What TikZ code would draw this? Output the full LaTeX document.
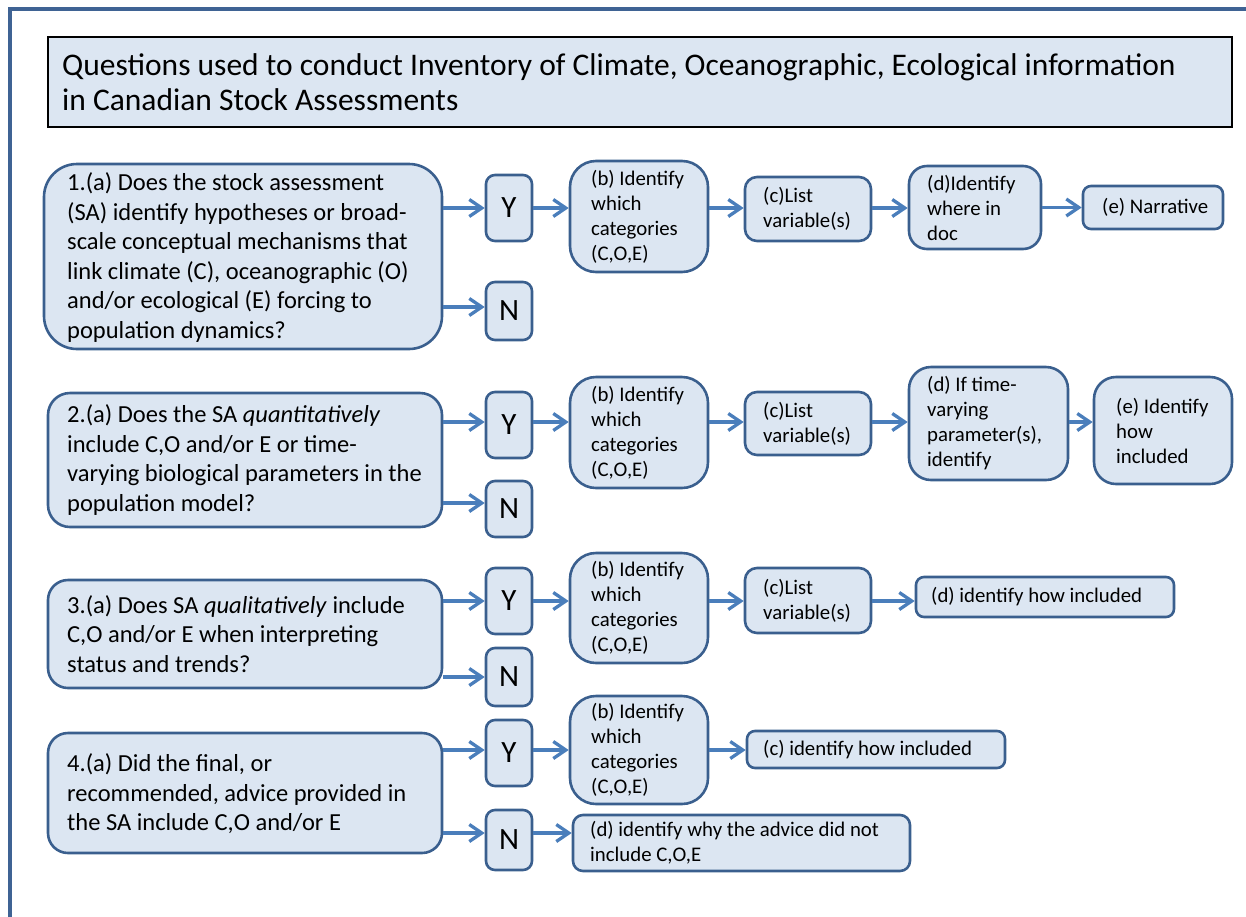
\documentclass[tikz,border=0pt]{standalone}
\usepackage{fontspec}
\setmainfont{Carlito}
\usetikzlibrary{arrows.meta,calc}
\definecolor{boxfill}{HTML}{DCE6F2}
\definecolor{boxdraw}{HTML}{3A5F8E}
\definecolor{arrowc}{HTML}{4A7EBB}
\definecolor{framec}{HTML}{3F6394}
\newcommand\mkbox[6]{\node[boxst, rounded corners=#6, minimum width={#4-#2}, minimum height={#5-#3}] (#1) at ({(#2+#4)/2},{(#3+#5)/2}) {};}
\begin{document}
\begin{tikzpicture}[x=1pt,y=-1pt,
  boxst/.style={draw=boxdraw, fill=boxfill, line width=2.6pt, inner sep=0pt},
  qtext/.style={anchor=west, inner sep=0pt, align=left, font=\fontsize{24.5pt}{29.5pt}\selectfont},
  stext/.style={anchor=west, inner sep=0pt, align=left, font=\fontsize{20.8pt}{25pt}\selectfont},
  yntext/.style={inner sep=0pt, font=\fontsize{31pt}{34pt}\selectfont},
  arr/.style={draw=arrowc, line width=3.3pt, -{Straight Barb[length=12.5pt,width=17pt,line width=3.3pt]}}]
\useasboundingbox (0,0) rectangle (1246,916);
\draw[framec, line width=3.5pt] (10,920) -- (10,9) -- (1250,9);
% title
\node[draw=black, fill=boxfill, line width=1.3pt, minimum width=1184, minimum height=90, inner sep=0pt] (T) at (640,82) {};
\node[anchor=west, inner sep=0pt, align=left, font=\fontsize{31.5pt}{35pt}\selectfont] (Tt) at (62,82) {Questions used to conduct Inventory of Climate, Oceanographic, Ecological information\\in Canadian Stock Assessments};
% question boxes
\mkbox{Q1}{44}{164}{442}{349}{33}
\mkbox{Q2}{48}{393}{442}{527}{22}
\mkbox{Q3}{48}{580}{442}{688}{20}
\mkbox{Q4}{48}{733}{442}{853}{20}
\node[qtext] (Q1t) at (67,257.5) {1.(a) Does the stock assessment\\(SA) identify hypotheses  or broad-\\scale conceptual  mechanisms that\\link climate (C), oceanographic  (O)\\and/or ecological (E) forcing to\\population dynamics?};
\node[qtext] (Q2t) at (67,460) {2.(a) Does the SA \textit{quantitatively}\\include C,O and/or E or time-\\varying biological parameters in the\\population model?};
\node[qtext] (Q3t) at (67,634) {3.(a) Does SA \textit{qualitatively} include\\C,O and/or E when interpreting\\status and trends?};
\node[qtext] (Q4t) at (67,794) {4.(a) Did the final, or\\recommended, advice provided in\\the SA include C,O and/or E};
% Y / N
\mkbox{Y1}{486}{175}{532}{241}{9}
\mkbox{N1}{486}{282}{532}{340}{9}
\mkbox{Y2}{486}{392}{532}{458}{9}
\mkbox{N2}{486}{481}{532}{537}{9}
\mkbox{Y3}{486}{568}{532}{634}{9}
\mkbox{N3}{486}{648}{532}{706}{9}
\mkbox{Y4}{486}{720}{532}{786}{9}
\mkbox{N4}{486}{810}{532}{870}{9}
\foreach \n in {Y1,Y2,Y3,Y4} {\node[yntext] (\n t) at (\n) {Y};}
\foreach \n in {N1,N2,N3,N4} {\node[yntext] (\n t) at (\n) {N};}
% (b) boxes
\mkbox{b1}{570}{161}{708}{272}{26}
\mkbox{b2}{570}{377}{708}{488}{26}
\mkbox{b3}{570}{553}{708}{663}{26}
\mkbox{b4}{570}{696}{708}{804}{26}
\foreach \n in {b1,b2,b3,b4} {\node[stext] (\n t) at (591,0 |- \n) {(b) Identify\\which\\categories\\(C,O,E)};}
% (c) boxes
\mkbox{c1}{745}{177}{871}{241}{12}
\mkbox{c2}{745}{392}{871}{455}{12}
\mkbox{c3}{745}{568}{871}{633}{12}
\mkbox{c4}{747}{731}{1005}{768}{8}
\foreach \n in {c1,c2,c3} {\node[stext] (\n t) at (763,0 |- \n) {(c)List\\variable(s)};}
\node[stext] (c4t) at (763,0 |- c4) {(c) identify how included};
% (d) boxes
\mkbox{d1}{909}{166}{1041}{249}{18}
\mkbox{d2}{909}{367}{1068}{480}{22}
\mkbox{d3}{916}{577}{1174}{617}{8}
\mkbox{d4}{573}{815}{910}{871}{10}
\node[stext] (d1t) at (927,0 |- d1) {(d)Identify\\where in\\doc};
\node[stext] (d2t) at (927,0 |- d2) {(d) If time-\\varying\\parameter(s),\\identify};
\node[stext] (d3t) at (931,0 |- d3) {(d) identify how included};
\node[stext] (d4t) at (590,0 |- d4) {(d) identify why the advice did not\\include C,O,E};
% (e) boxes
\mkbox{e1}{1083}{186}{1223}{229}{8}
\mkbox{e2}{1094}{377}{1232}{484}{22}
\node[stext] (e1t) at (1102,0 |- e1) {(e) Narrative};
\node[stext] (e2t) at (1116,0 |- e2) {(e) Identify\\how\\included};
% arrow rows
\coordinate (r1y) at (0,208); \coordinate (r1n) at (0,307);
\coordinate (r2y) at (0,422); \coordinate (r2n) at (0,503);
\coordinate (r3y) at (0,601); \coordinate (r3n) at (0,677);
\coordinate (r4y) at (0,750); \coordinate (r4n) at (0,833);
% row 1
\draw[arr] (Q1.east |- r1y) -- (Y1.west |- r1y);
\draw[arr] (Q1.east |- r1n) -- (N1.west |- r1n);
\draw[arr] (Y1.east |- r1y) -- (b1.west |- r1y);
\draw[arr] (b1.east |- r1y) -- (c1.west |- r1y);
\draw[arr] (c1.east |- r1y) -- (d1.west |- r1y);
\draw[arr] (d1.east |- e1) -- (e1.west);
% row 2
\draw[arr] (Q2.east |- r2y) -- (Y2.west |- r2y);
\draw[arr] (Q2.east |- r2n) -- (N2.west |- r2n);
\draw[arr] (Y2.east |- r2y) -- (b2.west |- r2y);
\draw[arr] (b2.east |- r2y) -- (c2.west |- r2y);
\draw[arr] (c2.east |- r2y) -- (d2.west |- r2y);
\draw[arr] (d2.east |- r2y) -- (e2.west |- r2y);
% row 3
\draw[arr] (Q3.east |- r3y) -- (Y3.west |- r3y);
\draw[arr] (Q3.east |- r3n) -- (N3.west |- r3n);
\draw[arr] (Y3.east |- r3y) -- (b3.west |- r3y);
\draw[arr] (b3.east |- r3y) -- (c3.west |- r3y);
\draw[arr] (c3.east |- r3y) -- (d3.west |- r3y);
% row 4
\draw[arr] (Q4.east |- r4y) -- (Y4.west |- r4y);
\draw[arr] (Q4.east |- r4n) -- (N4.west |- r4n);
\draw[arr] (Y4.east |- r4y) -- (b4.west |- r4y);
\draw[arr] (b4.east |- r4y) -- (c4.west |- r4y);
\draw[arr] (N4.east |- r4n) -- (d4.west |- r4n);
\end{tikzpicture}
\end{document}
